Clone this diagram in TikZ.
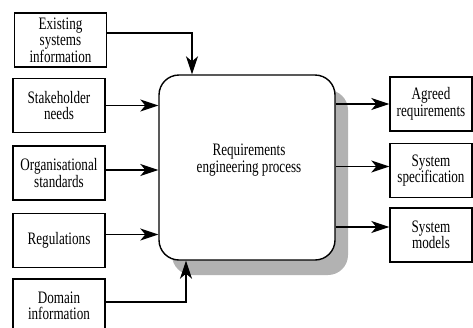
\documentclass[tikz,border=0pt]{standalone}
\usepackage{fontspec}
\setmainfont[FakeStretch=0.75]{Liberation Serif}
\usetikzlibrary{arrows.meta,shadows}

\begin{document}
\begin{tikzpicture}[x=1pt,y=-1pt,
  font=\fontsize{17.5}{16.5}\selectfont,
  inbox/.style={draw,line width=1.4pt,minimum width=92pt,minimum height=54pt,align=center,inner sep=1pt},
  outbox/.style={draw,line width=1.4pt,minimum width=82pt,minimum height=54pt,align=center,inner sep=1pt},
  flow/.style={line width=1.4pt,-{Stealth[length=18pt,width=12pt,inset=5pt]}}]

\useasboundingbox (0,0) rectangle (473,327);

% ---- the process in the middle ----
\node[draw,line width=1.4pt,rounded corners=20pt,fill=white,
      minimum width=176pt,minimum height=185pt,
      drop shadow={shadow xshift=13pt,shadow yshift=-15pt,fill=gray!60,opacity=1}]
  (rep) at (247,167.5) {};
\node[align=center,inner sep=0pt,font=\fontsize{17.5}{15}\selectfont] (reptext) at (249,160) {Requirements\\engineering process};

% ---- inputs on the left ----
\node[inbox] (ex)  at (60.5,40)   {Existing\\systems\\information};
\node[inbox] (sh)  at (59,105.5)  {Stakeholder\\needs};
\node[inbox] (org) at (59,173)    {Organisational\\standards};
\node[inbox] (reg) at (59,240.5)  {Regulations};
\node[inbox] (dom) at (59,306)    {Domain\\information};

% ---- outputs on the right ----
\node[outbox] (agr)  at (431,104)   {Agreed\\requirements};
\node[outbox] (spec) at (431,170.5) {System\\specification};
\node[outbox] (mod)  at (431,235)   {System\\models};

% ---- arrows in ----
\coordinate (topin) at ([xshift=-55pt]rep.north);
\coordinate (botin) at ([xshift=-61pt]rep.south);
\draw[flow] ([yshift=7pt]ex.east) -| (topin);
\draw[flow] (sh.east) -- (sh.east -| rep.west);
\draw[flow] ([yshift=3pt]org.east) -- ([yshift=3pt]org.east -| rep.west);
\draw[flow] ([yshift=6pt]reg.east) -- ([yshift=6pt]reg.east -| rep.west);
\draw[flow] ([yshift=4pt]dom.east) -| (botin);

% ---- arrows out ----
\draw[flow] (agr.west -| rep.east) -- (agr.west);
\draw[flow] ([yshift=4pt]spec.west -| rep.east) -- ([yshift=4pt]spec.west);
\draw[flow] ([yshift=8pt]mod.west -| rep.east) -- ([yshift=8pt]mod.west);

\end{tikzpicture}
\end{document}
